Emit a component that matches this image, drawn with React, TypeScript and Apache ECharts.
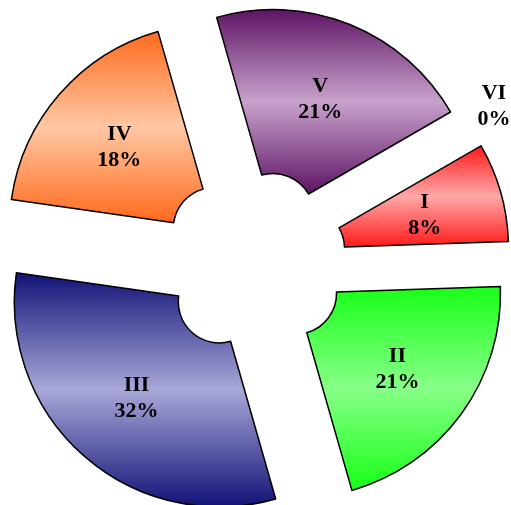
import React, { useEffect, useRef } from "react";
import * as echarts from "echarts";

const categories = ["I", "II", "III", "IV", "V", "VI"];
const values = [7.8, 21.1, 31.7, 18.3, 21.1, 0];
const edgeColors = ["#ff1a1a", "#18ff18", "#121277", "#ff6a1c", "#5e1464", "#888888"];
const midColors = ["#ffa8a8", "#88ff88", "#a8a8d8", "#ffc8a4", "#c8a2cc", "#cccccc"];

const CX = 253.5;
const CY = 262.7;
const FONT = "'Liberation Serif', 'Times New Roman', Times, serif";

export default function App() {
  const ref = useRef<HTMLDivElement>(null);
  useEffect(() => {
    if (!ref.current) return;
    const chart = echarts.init(ref.current, undefined, { renderer: "svg" });
    const total = values.reduce((a, b) => a + b, 0);
    const data = categories.map((name, i) => ({
      name,
      value: values[i],
      selected: true,
      label: { show: values[i] > 0 },
      itemStyle: {
        borderWidth: values[i] > 0 ? 1.5 : 0,
        color: new echarts.graphic.LinearGradient(0, 0, 0, 1, [
          { offset: 0, color: edgeColors[i] },
          { offset: 0.5, color: midColors[i] },
          { offset: 1, color: edgeColors[i] },
        ]),
      },
    }));
    // labels for zero-valued slices, placed beyond the slice's angle
    const zeroLabels: any[] = [];
    let acc = 0;
    values.forEach((v, i) => {
      const ang = 30 - (acc / total) * 360;
      acc += v;
      if (v === 0) {
        const a = ((ang + 3.4) * Math.PI) / 180;
        zeroLabels.push({
          type: "text",
          x: CX + 288 * Math.cos(a),
          y: CY - 288 * Math.sin(a),
          style: {
            text: `${categories[i]}\n${Math.round((v / total) * 100)}%`,
            font: `bold 22px ${FONT}`,
            lineHeight: 26,
            fill: "#000",
            align: "center",
            verticalAlign: "middle",
          },
        });
      }
    });
    chart.setOption({
      animation: false,
      graphic: zeroLabels,
      series: [
        {
          type: "pie",
          center: [CX, CY],
          radius: [41, 205],
          startAngle: 30,
          clockwise: true,
          selectedMode: "multiple",
          selectedOffset: 52,
          percentPrecision: 0,
          avoidLabelOverlap: false,
          itemStyle: { borderColor: "#000", borderWidth: 1.5 },
          label: {
            show: true,
            position: "inside",
            formatter: "{b}\n{d}%",
            fontFamily: FONT,
            fontWeight: "bold",
            fontSize: 22,
            lineHeight: 26,
            color: "#000",
          },
          labelLine: { show: false },
          emphasis: { disabled: true },
          data,
        },
      ],
    });
    return () => chart.dispose();
  }, []);
  return (
    <div
      ref={ref}
      style={{ position: "fixed", left: 0, top: 0, width: 511, height: 505 }}
    />
  );
}
